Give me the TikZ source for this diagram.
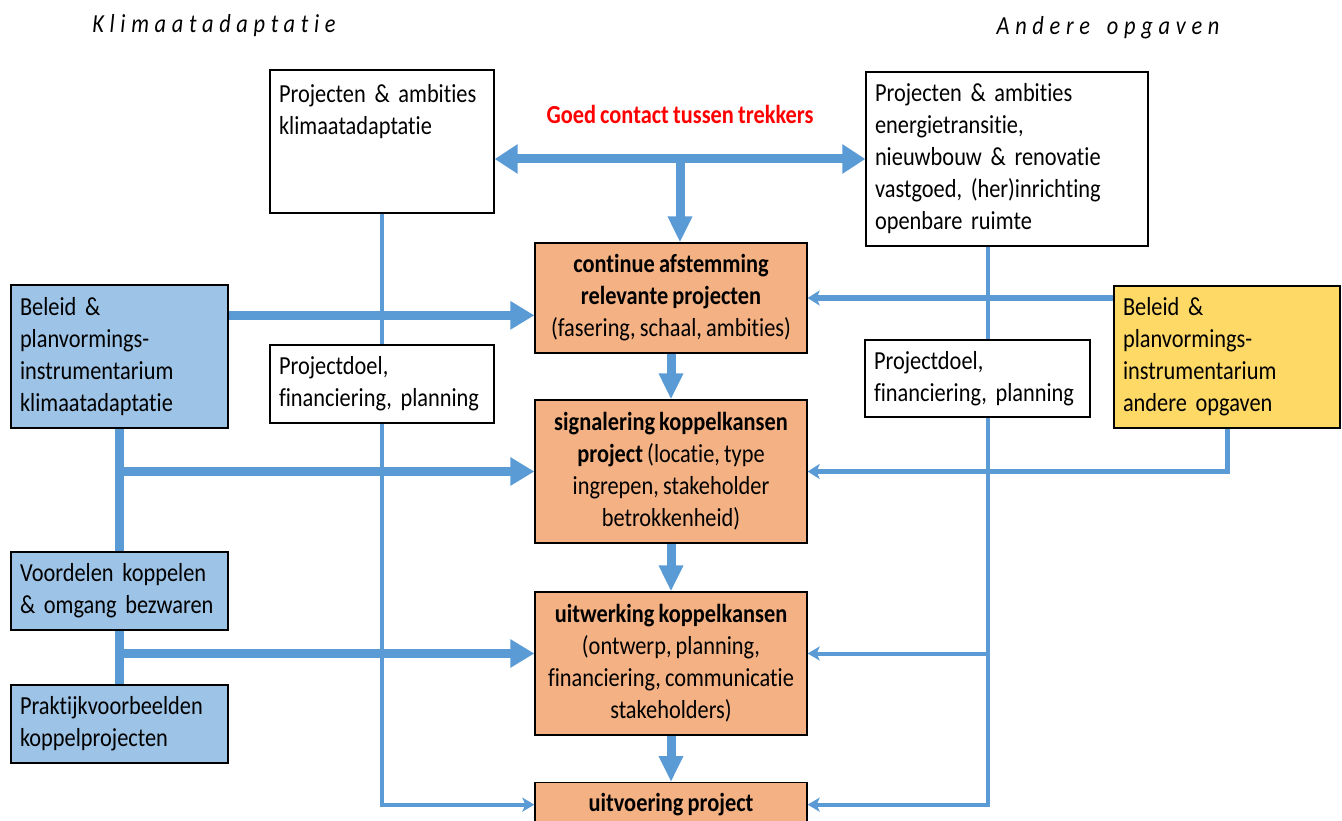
\documentclass[tikz,border=0pt]{standalone}
\usepackage{fontspec}
\setmainfont{Carlito}[FakeStretch=0.86, WordSpace=0.82, Ligatures=NoCommon]
\usepackage{xcolor}
\usetikzlibrary{arrows.meta}

\definecolor{lijnblauw}{HTML}{5B9BD5}
\definecolor{vakblauw}{HTML}{9DC3E6}
\definecolor{vakgeel}{HTML}{FFD966}
\definecolor{vakoranje}{HTML}{F4B183}

\tikzset{
  vak/.style={draw=black, line width=1.3pt, fill=white, inner xsep=8pt, inner ysep=3pt,
    align=left, font=\fontsize{26}{32}\selectfont},
  stap/.style={vak, fill=vakoranje, align=center, minimum width=272pt},
  titel/.style={inner sep=0pt, font=\fontsize{26}{30}\selectfont\itshape\addfontfeature{LetterSpace=22}},
  contact/.style={inner sep=0pt, text=red, font=\fontsize{26}{30}\selectfont\bfseries},
  dik/.style={draw=lijnblauw, line width=9pt},
  dikpijl/.style={dik, -{Triangle[length=24pt,width=27pt]}},
  dun/.style={draw=lijnblauw, line width=4pt},
  dunpijl/.style={dun, -{Stealth[length=12pt,width=14pt,inset=3pt]}},
  middelpijl/.style={draw=lijnblauw, line width=5pt, -{Stealth[length=12pt,width=15pt,inset=3pt]}}
}

\begin{document}
\begin{tikzpicture}[x=1pt,y=1pt,yscale=-1,xscale=1]
    \useasboundingbox (0,0) rectangle (1342,821);
    \clip (0,0) rectangle (1342,821);

    % Titels
    \node[titel] (titelka) at (214,26) {Klimaatadaptatie};
    \node[titel] (titelao) at (1108,28) {Andere\hspace{8pt} opgaven};

    % Vak: projecten en ambities
    \node[vak, minimum width=224pt, minimum height=143pt, text width=206pt] (projka) at (382,141.5) {Projecten \& ambities\\klimaatadaptatie\\~\\~};
    \node[vak, minimum width=282pt, minimum height=174pt, text width=264pt] (projao) at (1007,159) {Projecten \& ambities\\energietransitie,\\nieuwbouw \& renovatie\\vastgoed, (her)inrichting\\openbare ruimte};

    % Vak: beleid klimaatadaptatie (blauw)
    \node[vak, fill=vakblauw, minimum width=217pt, minimum height=143pt, text width=199pt] (beleidka) at (119.5,356.5) {Beleid \&\\planvormings-\\instrumentarium\\klimaatadaptatie};
    \node[vak, fill=vakblauw, minimum width=217pt, minimum height=78pt, text width=199pt] (voordelen) at (119.5,591) {Voordelen koppelen\\\& omgang bezwaren};
    \node[vak, fill=vakblauw, minimum width=217pt, minimum height=78pt, text width=199pt] (praktijk) at (119.5,724) {Praktijkvoorbeelden\\koppelprojecten};

    % Vak: projectdoel
    \node[vak, minimum width=224pt, minimum height=78pt, text width=206pt] (doelka) at (382,384) {Projectdoel,\\financiering, planning};
    \node[vak, minimum width=225pt, minimum height=77pt, text width=207pt] (doelao) at (977.5,378.5) {Projectdoel,\\financiering, planning};

    % Vak: beleid andere opgaven (geel)
    \node[vak, fill=vakgeel, minimum width=226pt, minimum height=142pt, text width=208pt] (beleidao) at (1227,357) {Beleid \&\\planvormings-\\instrumentarium\\andere opgaven};

    % Stappen (oranje)
    \node[stap, minimum height=110pt] (afstem) at (671,298) {\textbf{continue afstemming}\\\textbf{relevante projecten}\\(fasering, schaal, ambities)};
    \node[stap, minimum height=143pt] (signaal) at (671,471.5) {\textbf{signalering koppelkansen}\\\textbf{project} (locatie, type\\ingrepen, stakeholder\\betrokkenheid)};
    \node[stap, minimum height=143pt] (uitwerk) at (671,663.5) {\textbf{uitwerking koppelkansen}\\(ontwerp, planning,\\financiering, communicatie\\stakeholders)};
    \node[stap, minimum height=44pt, anchor=north] (uitvoer) at (671,782) {\textbf{uitvoering project}};

    % Goed contact
    \coordinate (knik) at (680,159);
    \coordinate (rechts) at (988,0);
    \node[contact] (contact) at (680,114) {Goed contact tussen trekkers};
    \draw[dik, {Triangle[length=23pt,width=28pt]}-{Triangle[length=23pt,width=28pt]}] (projka.east |- knik) -- (projao.west |- knik);
    \draw[dik, -{Triangle[length=26pt,width=23pt]}] (knik) -- (knik |- afstem.north);

    % Pijlen tussen stappen
    \draw[dik, -{Triangle[length=26pt,width=23pt]}] (afstem) -- (signaal);
    \draw[dik, -{Triangle[length=26pt,width=23pt]}] (signaal) -- (uitwerk);
    \draw[dik, -{Triangle[length=26pt,width=23pt]}] (uitwerk) -- (uitvoer);

    % Links: beleid klimaatadaptatie
    \draw[dikpijl] ([yshift=31pt]beleidka.north east) coordinate (links1) -- (afstem.west |- links1);
    \draw[dik] (beleidka.south) -- (voordelen.north);
    \draw[dikpijl] (beleidka.south |- signaal.west) -- (signaal.west);
    \draw[dik] (voordelen.south) -- (praktijk.north);
    \coordinate (links3) at ([yshift=-10pt]uitwerk.west);
    \draw[dikpijl] (voordelen.south |- links3) -- (links3);

    % Projectdoel links
    \draw[dun] (projka.south) -- (doelka.north);
    \draw[dunpijl] (doelka.south) |- (uitvoer.west);

    % Projectdoel rechts
    \draw[dun] (projao.south -| rechts) -- (doelao.north -| rechts);
    \draw[dunpijl] (doelao.south -| rechts) |- (uitvoer.east);
    \coordinate (rechts3) at ([yshift=-10pt]uitwerk.east);
    \draw[dunpijl] (rechts |- rechts3) -- (rechts3);

    % Rechts: beleid andere opgaven
    \draw[middelpijl] (beleidao.west |- afstem.east) -- (afstem.east);
    \draw[middelpijl] (beleidao.south) |- (signaal.east);

\end{tikzpicture}
\end{document}
